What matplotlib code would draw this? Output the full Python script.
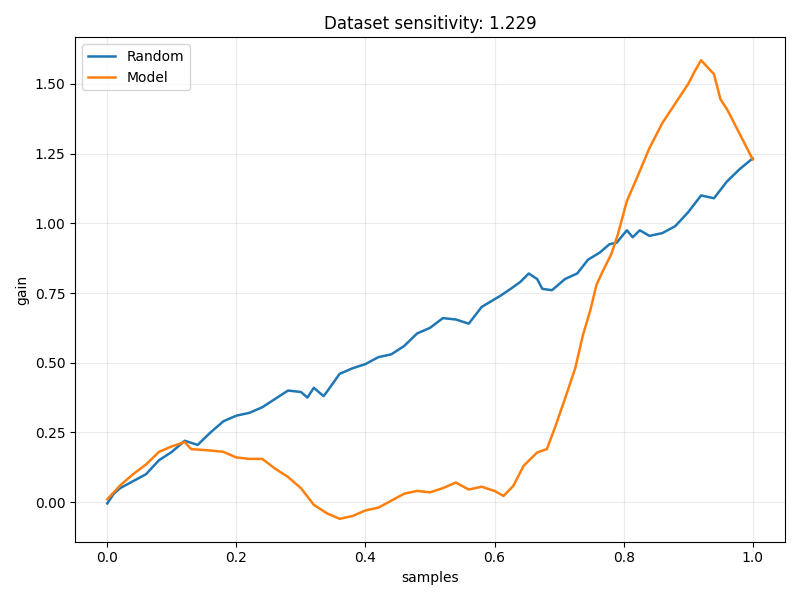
import matplotlib
matplotlib.use("Agg")
import matplotlib.pyplot as plt

random_x = [0.0, 0.01, 0.02, 0.04, 0.06, 0.08, 0.10, 0.12, 0.14, 0.16, 0.18, 0.20, 0.22, 0.24,
            0.26, 0.28, 0.30, 0.31, 0.32, 0.335, 0.34, 0.36, 0.38, 0.40, 0.42, 0.44, 0.46,
            0.48, 0.50, 0.52, 0.54, 0.56, 0.58, 0.609, 0.625, 0.64, 0.653, 0.666, 0.674, 0.689,
            0.709, 0.728, 0.745, 0.763, 0.778, 0.789, 0.805, 0.814, 0.825, 0.84, 0.86, 0.88,
            0.90, 0.92, 0.94, 0.96, 0.98, 1.0]
random_y = [-0.005, 0.03, 0.05, 0.075, 0.10, 0.15, 0.18, 0.22, 0.205, 0.25, 0.29, 0.31, 0.32, 0.34,
            0.37, 0.40, 0.395, 0.375, 0.41, 0.38, 0.395, 0.46, 0.48, 0.495, 0.52, 0.53, 0.56,
            0.605, 0.625, 0.66, 0.655, 0.64, 0.70, 0.74, 0.765, 0.79, 0.82, 0.80, 0.765, 0.76,
            0.80, 0.82, 0.87, 0.895, 0.925, 0.93, 0.975, 0.95, 0.975, 0.955, 0.965, 0.99,
            1.04, 1.10, 1.09, 1.15, 1.195, 1.233]

model_x = [0.0, 0.02, 0.04, 0.06, 0.08, 0.10, 0.12, 0.13, 0.16, 0.18, 0.20, 0.22, 0.24, 0.26,
           0.28, 0.30, 0.32, 0.34, 0.36, 0.38, 0.40, 0.42, 0.44, 0.46, 0.48, 0.50, 0.52, 0.54,
           0.56, 0.58, 0.60, 0.614, 0.629, 0.645, 0.666, 0.681, 0.694, 0.709, 0.725, 0.737,
           0.748, 0.758, 0.768, 0.781, 0.791, 0.805, 0.82, 0.84, 0.86, 0.88, 0.90, 0.91, 0.92,
           0.94, 0.95, 0.96, 0.98, 1.0]
model_y = [0.01, 0.06, 0.10, 0.135, 0.18, 0.20, 0.215, 0.19, 0.185, 0.18, 0.16, 0.155, 0.155, 0.12,
           0.09, 0.05, -0.01, -0.04, -0.06, -0.05, -0.03, -0.02, 0.005, 0.03, 0.04, 0.035, 0.05, 0.07,
           0.045, 0.055, 0.04, 0.022, 0.058, 0.13, 0.178, 0.19, 0.27, 0.37, 0.48, 0.60,
           0.685, 0.78, 0.83, 0.89, 0.96, 1.08, 1.16, 1.27, 1.36, 1.43, 1.50, 1.545, 1.585,
           1.535, 1.445, 1.41, 1.32, 1.229]

fig, ax = plt.subplots(figsize=(8, 6), dpi=100)
ax.plot(random_x, random_y, color="#1f77b4", lw=1.8, label="Random")
ax.plot(model_x, model_y, color="#ff7f0e", lw=1.8, label="Model")
ax.set_title("Dataset sensitivity: 1.229")
ax.set_xlabel("samples")
ax.set_ylabel("gain")
ax.grid(True, alpha=0.25)
ax.legend(loc="upper left")
fig.tight_layout()
fig.savefig("out.png")
